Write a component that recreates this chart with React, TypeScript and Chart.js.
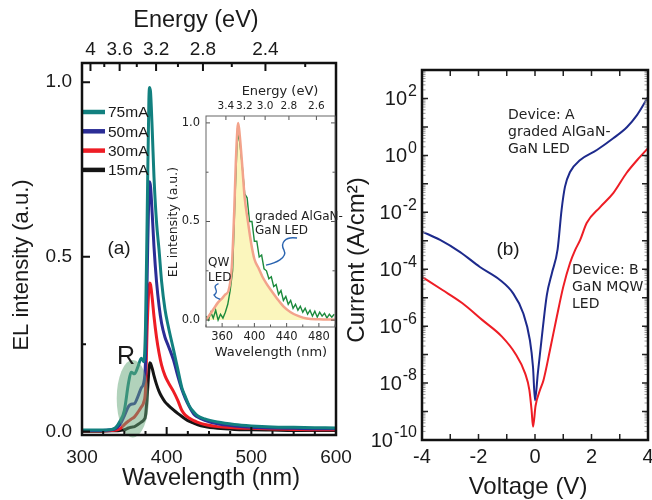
import React, { useEffect, useRef } from "react";
import { Chart, registerables } from "chart.js";
Chart.register(...registerables);

const SANS = "'Liberation Sans', Arial, Helvetica, sans-serif";
const DEJAVU = "'DejaVu Sans', Verdana, sans-serif";
const HC = 1240; // eV*nm

// ---------------- Panel (a): EL spectra ----------------
const wavelengths = [300, 320, 335, 340, 345, 350, 355, 358, 362, 366, 370, 373, 375, 377, 379, 380, 381, 383, 385, 388, 391, 394, 398, 402, 408, 413, 418, 422, 427, 432, 436, 445, 460, 480, 500, 525, 550, 575, 600];
const el75 = [0.004, 0.004, 0.006, 0.012, 0.03, 0.06, 0.14, 0.17, 0.165, 0.185, 0.21, 0.2, 0.3, 0.62, 0.95, 0.985, 0.97, 0.86, 0.73, 0.6, 0.52, 0.43, 0.35, 0.3, 0.235, 0.18, 0.125, 0.1, 0.072, 0.056, 0.046, 0.036, 0.027, 0.02, 0.016, 0.013, 0.012, 0.011, 0.01];
const el50 = [0.003, 0.003, 0.005, 0.009, 0.02, 0.045, 0.072, 0.078, 0.08, 0.1, 0.125, 0.14, 0.2, 0.45, 0.69, 0.715, 0.7, 0.62, 0.53, 0.43, 0.36, 0.31, 0.27, 0.245, 0.205, 0.16, 0.12, 0.095, 0.07, 0.05, 0.042, 0.032, 0.022, 0.016, 0.012, 0.01, 0.009, 0.008, 0.008];
const el30 = [0.002, 0.002, 0.003, 0.004, 0.008, 0.02, 0.03, 0.035, 0.042, 0.055, 0.07, 0.085, 0.12, 0.3, 0.41, 0.425, 0.42, 0.38, 0.33, 0.27, 0.225, 0.19, 0.16, 0.14, 0.115, 0.09, 0.06, 0.047, 0.038, 0.031, 0.027, 0.02, 0.014, 0.011, 0.009, 0.007, 0.006, 0.005, 0.005];
const el15 = [0.001, 0.001, 0.002, 0.002, 0.003, 0.005, 0.01, 0.012, 0.014, 0.02, 0.027, 0.033, 0.045, 0.1, 0.175, 0.197, 0.195, 0.18, 0.16, 0.135, 0.115, 0.1, 0.085, 0.075, 0.062, 0.052, 0.043, 0.036, 0.029, 0.024, 0.02, 0.014, 0.009, 0.006, 0.005, 0.004, 0.003, 0.003, 0.003];
const seriesLabels = ["75mA", "50mA", "30mA", "15mA"];
const seriesColors = ["#12807f", "#2b2d96", "#ee1d25", "#151515"];
const wlTicks = [300, 400, 500, 600];
const wlMinorTicks = [325, 350, 375, 425, 450, 475, 525, 550, 575];
const energyTicks = [4, 3.6, 3.2, 2.8, 2.4];
const energyTickLabels = ["4", "3.6", "3.2", "2.8", "2.4"];
const energyMinorTicks = [3.8, 3.4, 3.0, 2.6, 2.2];
const elTicks = [0, 0.5, 1.0];
const elMinorTicks = [0.25, 0.75];
// highlighted region "R" (wavelength nm, intensity)
const regionR = { cx: 360, cy: 0.094, rx: 19, ry: 0.111 };

// ---------------- Inset ----------------
const insetWlQW = [340, 345, 350, 355, 360, 364, 368, 372, 375, 377, 379, 380, 382, 385, 388, 392, 396, 400, 405, 410, 415, 420, 428, 436, 445, 455, 465, 480, 500];
const insetQW = [0.0, 0.03, 0.06, 0.09, 0.11, 0.13, 0.15, 0.27, 0.55, 0.8, 0.97, 1.0, 0.93, 0.78, 0.62, 0.5, 0.39, 0.31, 0.265, 0.22, 0.185, 0.155, 0.11, 0.07, 0.04, 0.02, 0.008, 0.004, 0.002];
const insetWlGraded = [340, 343, 346, 349, 352, 355, 358, 361, 364, 367, 370, 373, 376, 379, 382, 385, 388, 391, 394, 397, 400, 403, 406, 409, 412, 415, 418, 421, 424, 427, 430, 433, 436, 439, 442, 445, 448, 451, 454, 457, 460, 463, 466, 469, 472, 475, 478, 481, 484, 487, 490, 493, 496, 499];
const insetGraded = [0.02, 0.0, 0.04, 0.01, 0.05, 0.0, 0.03, 0.01, 0.04, 0.08, 0.15, 0.25, 0.62, 0.95, 0.9, 0.78, 0.64, 0.62, 0.5, 0.5, 0.4, 0.4, 0.32, 0.33, 0.26, 0.25, 0.21, 0.22, 0.17, 0.18, 0.13, 0.15, 0.1, 0.12, 0.08, 0.1, 0.06, 0.08, 0.05, 0.07, 0.04, 0.06, 0.03, 0.05, 0.02, 0.045, 0.015, 0.04, 0.02, 0.035, 0.01, 0.03, 0.015, 0.03];
const insetWlTicks = [360, 400, 440, 480];
const insetWlMinor = [340, 380, 420, 460, 500];
const insetEnergyTicks = [3.4, 3.2, 3.0, 2.8, 2.6];
const insetEnergyLabels = ["3.4", "3.2", "3.0", "2.8", "2.6"];
const insetElTicks = [0, 0.5, 1.0];
const insetElMinor = [0.25, 0.75];
// pointer squiggles (data coords of the inset)
const squiggleGraded = [[452.9, 0.416], [438, 0.426], [431.8, 0.391], [436.7, 0.355], [441.7, 0.315], [425.6, 0.289], [414.4, 0.279]];
const squiggleQW = [[355.5, 0.185], [345, 0.168], [358.5, 0.15], [349.9, 0.127], [352, 0.11], [356.5, 0.108], [357.5, 0.105]];

// ---------------- Panel (b): J-V ----------------
const voltA = [-4, -3.36, -2.65, -1.95, -1.24, -0.78, -0.42, -0.18, -0.07, 0, 0.1, 0.28, 0.42, 0.6, 0.8, 0.94, 1.06, 1.24, 1.6, 2.19, 2.77, 3.26, 3.61, 4.0];
const currentA = [2.1e-3, 1.07e-3, 4.0e-4, 1.2e-4, 4.2e-5, 1.45e-5, 2.9e-6, 3.2e-7, 3.6e-8, 2.5e-9, 2.2e-8, 9.3e-7, 1.26e-5, 7.4e-5, 5.0e-4, 1.2e-2, 7.8e-2, 0.26, 0.69, 1.55, 4.0, 10, 26, 112];
const voltB = [-4, -3.29, -2.58, -1.87, -1.17, -0.7, -0.35, -0.2, -0.12, -0.07, 0.02, 0.18, 0.3, 0.53, 0.77, 1.0, 1.24, 1.42, 1.6, 1.83, 2.3, 2.77, 3.24, 3.71, 4.0];
const currentB = [5.4e-5, 1.9e-5, 6.5e-6, 1.66e-6, 4.3e-7, 1.1e-7, 2.2e-8, 5.8e-9, 1.1e-9, 2.9e-10, 1.6e-9, 5.8e-9, 1.26e-8, 1.45e-7, 2.1e-6, 2.4e-5, 1.66e-4, 4.7e-4, 1.07e-3, 4.2e-3, 1.5e-2, 4.7e-2, 0.24, 0.87, 1.8];
const voltTicks = [-4, -2, 0, 2, 4];
const voltMinor = [-3, -1, 1, 3];
const currentExponents = [-10, -8, -6, -4, -2, 0, 2];
const currentDecades = [-10, -9, -8, -7, -6, -5, -4, -3, -2, -1, 0, 1, 2, 3];
const minorMultipliers = [2, 3, 4, 5, 6, 7, 8, 9];

// ---------------- helpers ----------------
type TickSet = { scale: string; values: number[]; len: number; width: number; color: string; edges: string[] };

function frameTicks(sets: TickSet[], frameWidth: number, frameColor: string, fillBg?: string) {
  return {
    id: "frameTicks",
    beforeDraw(chart: any) {
      if (!fillBg) return;
      const { ctx, chartArea: a } = chart;
      ctx.save();
      ctx.fillStyle = fillBg;
      ctx.fillRect(a.left, a.top, a.width, a.height);
      ctx.restore();
    },
    afterDraw(chart: any) {
      const { ctx, chartArea: a } = chart;
      ctx.save();
      for (const t of sets) {
        const s = chart.scales[t.scale];
        ctx.beginPath();
        ctx.strokeStyle = t.color;
        ctx.lineWidth = t.width;
        for (const v of t.values) {
          const p = s.getPixelForValue(v);
          for (const e of t.edges) {
            if (e === "bottom") { ctx.moveTo(p, a.bottom); ctx.lineTo(p, a.bottom - t.len); }
            else if (e === "top") { ctx.moveTo(p, a.top); ctx.lineTo(p, a.top + t.len); }
            else if (e === "left") { ctx.moveTo(a.left, p); ctx.lineTo(a.left + t.len, p); }
            else { ctx.moveTo(a.right, p); ctx.lineTo(a.right - t.len, p); }
          }
        }
        ctx.stroke();
      }
      ctx.lineWidth = frameWidth;
      ctx.strokeStyle = frameColor;
      ctx.strokeRect(a.left, a.top, a.width, a.height);
      ctx.restore();
    },
  };
}

type TextItem = { text: string; x: number; y: number; font: string; color?: string; align?: CanvasTextAlign; rot?: number };
function textPlugin(items: TextItem[]) {
  return {
    id: "texts",
    afterDraw(chart: any) {
      const ctx = chart.ctx;
      for (const t of items) {
        ctx.save();
        ctx.translate(t.x, t.y);
        if (t.rot) ctx.rotate(t.rot);
        ctx.font = t.font;
        ctx.fillStyle = t.color || "#1a1a1a";
        ctx.textAlign = t.align || "center";
        ctx.textBaseline = "middle";
        ctx.fillText(t.text, 0, 0);
        ctx.restore();
      }
    },
  };
}

const fixH = (h: number) => (s: any) => { s.height = h; s.paddingLeft = 0; s.paddingRight = 0; };
const fixW = (w: number) => (s: any) => { s.width = w; s.paddingTop = 0; s.paddingBottom = 0; };
const setTicks = (vals: number[]) => (s: any) => { s.ticks = vals.map((v) => ({ value: v })); };
const noGrid = { display: false, drawTicks: false };
const noBorder = { display: false };
const pts = (xs: number[], ys: number[]) => xs.map((x, i) => ({ x, y: ys[i] }));

// ---------------- configs ----------------
function configMain(): any {
  const series = [el75, el50, el30, el15];
  const decor = {
    id: "decor",
    afterDatasetsDraw(chart: any) {
      const { ctx, scales, chartArea: a } = chart;
      const x = scales.x, y = scales.y;
      const cx = x.getPixelForValue(regionR.cx), cy = y.getPixelForValue(regionR.cy);
      const rx = Math.abs(x.getPixelForValue(regionR.cx + regionR.rx) - cx);
      const ry = Math.abs(y.getPixelForValue(regionR.cy + regionR.ry) - cy);
      ctx.save();
      ctx.fillStyle = "rgba(100,165,120,0.5)";
      ctx.beginPath();
      ctx.ellipse(cx, cy, rx, ry, 0, 0, Math.PI * 2);
      ctx.fill();
      // legend
      chart.data.datasets.forEach((ds: any, i: number) => {
        const yy = a.top + 49 + i * 19.3;
        ctx.strokeStyle = ds.borderColor;
        ctx.lineWidth = 4.5;
        ctx.beginPath();
        ctx.moveTo(a.left, yy);
        ctx.lineTo(a.left + 23, yy);
        ctx.stroke();
        ctx.fillStyle = "#1a1a1a";
        ctx.font = `15.5px ${SANS}`;
        ctx.textAlign = "left";
        ctx.textBaseline = "middle";
        ctx.fillText(ds.label, a.left + 26, yy + 1);
      });
      ctx.restore();
    },
  };
  return {
    type: "line",
    data: {
      datasets: series.map((s, i) => ({
        label: seriesLabels[i],
        data: pts(wavelengths, s),
        borderColor: seriesColors[i],
        borderWidth: 3,
        pointRadius: 0,
        fill: false,
        cubicInterpolationMode: "monotone",
      })),
    },
    options: {
      animation: false,
      responsive: false,
      maintainAspectRatio: false,
      events: [],
      layout: { padding: { left: 0, top: 0, right: 316, bottom: 0 } },
      plugins: { legend: { display: false }, tooltip: { enabled: false } },
      scales: {
        x: {
          type: "linear", position: "bottom", min: 300, max: 600,
          afterBuildTicks: setTicks(wlTicks), afterFit: fixH(65),
          grid: noGrid, border: noBorder,
          ticks: { autoSkip: false, maxRotation: 0, padding: 11, color: "#1a1a1a", font: { family: SANS, size: 19 }, callback: (v: number) => String(v) },
        },
        x2: {
          type: "linear", axis: "x", position: "top", min: 300, max: 600,
          afterBuildTicks: setTicks(energyTicks.map((e) => HC / e)), afterFit: fixH(63),
          grid: noGrid, border: noBorder,
          ticks: { autoSkip: false, maxRotation: 0, padding: 2, color: "#1a1a1a", font: { family: SANS, size: 19 }, callback: (_v: number, i: number) => energyTickLabels[i] },
        },
        y: {
          type: "linear", position: "left", min: -0.01, max: 1.055,
          afterBuildTicks: setTicks(elTicks), afterFit: fixW(82),
          grid: noGrid, border: noBorder,
          ticks: { autoSkip: false, padding: 10, color: "#1a1a1a", font: { family: SANS, size: 19 }, callback: (v: number) => v.toFixed(1) },
        },
      },
    },
    plugins: [
      decor,
      frameTicks([
        { scale: "x", values: wlTicks, len: 8, width: 2, color: "#111", edges: ["bottom"] },
        { scale: "x", values: wlMinorTicks, len: 4, width: 2, color: "#111", edges: ["bottom"] },
        { scale: "x2", values: energyTicks.map((e) => HC / e), len: 8, width: 2, color: "#111", edges: ["top"] },
        { scale: "x2", values: energyMinorTicks.map((e) => HC / e), len: 4, width: 2, color: "#111", edges: ["top"] },
        { scale: "y", values: elTicks, len: 8, width: 2, color: "#111", edges: ["left"] },
        { scale: "y", values: elMinorTicks, len: 4, width: 2, color: "#111", edges: ["left"] },
      ], 2.5, "#111"),
      textPlugin([
        { text: "Energy (eV)", x: 196, y: 21, font: `23.5px ${SANS}` },
        { text: "Wavelength (nm)", x: 211, y: 479, font: `23.5px ${SANS}` },
        { text: "EL intensity (a.u.)", x: 22, y: 265, font: `22px ${SANS}`, rot: -Math.PI / 2 },
        { text: "(a)", x: 119, y: 249, font: `19px ${SANS}` },
        { text: "R", x: 126, y: 357, font: `25px ${SANS}` },
      ]),
    ],
  };
}

function configInset(): any {
  const squiggles = {
    id: "squiggles",
    afterDraw(chart: any) {
      const { ctx, scales } = chart;
      const x = scales.x, y = scales.y;
      ctx.save();
      ctx.strokeStyle = "#2a64b0";
      ctx.lineWidth = 1.4;
      for (const sq of [squiggleGraded, squiggleQW]) {
        const p = sq.map(([a, b]) => [x.getPixelForValue(a), y.getPixelForValue(b)]);
        ctx.beginPath();
        ctx.moveTo(p[0][0], p[0][1]);
        ctx.bezierCurveTo(p[1][0], p[1][1], p[2][0], p[2][1], p[3][0], p[3][1]);
        ctx.bezierCurveTo(p[4][0], p[4][1], p[5][0], p[5][1], p[6][0], p[6][1]);
        ctx.stroke();
      }
      ctx.restore();
    },
  };
  return {
    type: "line",
    data: {
      datasets: [
        { label: "QW LED", data: pts(insetWlQW, insetQW), borderColor: "#f3a38b", borderWidth: 2.5, pointRadius: 0, fill: false, cubicInterpolationMode: "monotone" },
        { label: "graded AlGaN-GaN LED", data: pts(insetWlGraded, insetGraded), borderColor: "#1c8a3c", borderWidth: 1.4, pointRadius: 0, fill: false, tension: 0 },
        { label: "QW fill", data: pts(insetWlQW, insetQW), borderWidth: 0, borderColor: "rgba(0,0,0,0)", backgroundColor: "#fbf6bd", pointRadius: 0, fill: "origin", cubicInterpolationMode: "monotone" },
      ],
    },
    options: {
      animation: false,
      responsive: false,
      maintainAspectRatio: false,
      events: [],
      layout: { padding: { left: 166, top: 86, right: 317, bottom: 143 } },
      plugins: { legend: { display: false }, tooltip: { enabled: false }, filler: { propagate: false } },
      scales: {
        x: {
          type: "linear", position: "bottom", min: 340, max: 500,
          afterBuildTicks: setTicks(insetWlTicks), afterFit: fixH(30),
          grid: noGrid, border: noBorder,
          ticks: { autoSkip: false, maxRotation: 0, padding: 3, color: "#222", font: { family: DEJAVU, size: 11.5 }, callback: (v: number) => String(v) },
        },
        x2: {
          type: "linear", axis: "x", position: "top", min: 340, max: 500,
          afterBuildTicks: setTicks(insetEnergyTicks.map((e) => HC / e)), afterFit: fixH(30),
          grid: noGrid, border: noBorder,
          ticks: { autoSkip: false, maxRotation: 0, padding: 3, color: "#222", font: { family: DEJAVU, size: 10.5 }, callback: (_v: number, i: number) => insetEnergyLabels[i] },
        },
        y: {
          type: "linear", position: "left", min: -0.035, max: 1.035,
          afterBuildTicks: setTicks(insetElTicks), afterFit: fixW(40),
          grid: noGrid, border: noBorder,
          ticks: { autoSkip: false, padding: 6, color: "#222", font: { family: DEJAVU, size: 11.5 }, callback: (v: number) => v.toFixed(1) },
        },
      },
    },
    plugins: [
      frameTicks([
        { scale: "x", values: insetWlTicks, len: 4, width: 1, color: "#555", edges: ["bottom"] },
        { scale: "x", values: insetWlMinor, len: 2.5, width: 1, color: "#555", edges: ["bottom"] },
        { scale: "x2", values: insetEnergyTicks.map((e) => HC / e), len: 4, width: 1, color: "#555", edges: ["top"] },
        { scale: "y", values: insetElTicks, len: 4, width: 1, color: "#555", edges: ["left", "right"] },
        { scale: "y", values: insetElMinor, len: 2.5, width: 1, color: "#555", edges: ["left", "right"] },
      ], 1, "#666", "#ffffff"),
      squiggles,
      textPlugin([
        { text: "Energy (eV)", x: 280, y: 92, font: `13px ${DEJAVU}`, color: "#222" },
        { text: "Wavelength (nm)", x: 271, y: 353, font: `13px ${DEJAVU}`, color: "#222" },
        { text: "EL intensity (a.u.)", x: 174, y: 222, font: `12.5px ${DEJAVU}`, color: "#222", rot: -Math.PI / 2 },
        { text: "graded AlGaN-", x: 255, y: 217, font: `12px ${DEJAVU}`, color: "#222", align: "left" },
        { text: "GaN LED", x: 255, y: 231, font: `12px ${DEJAVU}`, color: "#222", align: "left" },
        { text: "QW", x: 208, y: 263, font: `12px ${DEJAVU}`, color: "#222", align: "left" },
        { text: "LED", x: 208, y: 278, font: `12px ${DEJAVU}`, color: "#222", align: "left" },
      ]),
    ],
  };
}

function configIV(): any {
  const yMin = 1e-10, yMax = 1e3;
  const minorCurrent: number[] = [];
  for (const d of currentDecades) for (const m of minorMultipliers) {
    const v = m * Math.pow(10, d);
    if (v > yMin && v < yMax) minorCurrent.push(v);
  }
  const expLabels = {
    id: "expLabels",
    afterDraw(chart: any) {
      const { ctx, chartArea: a } = chart;
      const s = chart.scales.y;
      ctx.save();
      ctx.fillStyle = "#1a1a1a";
      ctx.textAlign = "right";
      ctx.textBaseline = "middle";
      for (const e of currentExponents) {
        const py = s.getPixelForValue(Math.pow(10, e));
        const ex = String(e);
        const xr = a.left - 5;
        ctx.font = `16px ${SANS}`;
        ctx.fillText(ex, xr, py - 7);
        const w = ctx.measureText(ex).width;
        ctx.font = `20px ${SANS}`;
        ctx.fillText("10", xr - w - 1, py + 1);
      }
      ctx.restore();
    },
  };
  return {
    type: "line",
    data: {
      datasets: [
        { label: "Device A", data: pts(voltA, currentA), borderColor: "#1d2a8c", borderWidth: 2, pointRadius: 0, fill: false, cubicInterpolationMode: "monotone" },
        { label: "Device B", data: pts(voltB, currentB), borderColor: "#ee1d25", borderWidth: 2, pointRadius: 0, fill: false, cubicInterpolationMode: "monotone" },
      ],
    },
    options: {
      animation: false,
      responsive: false,
      maintainAspectRatio: false,
      events: [],
      layout: { padding: { left: 0, top: 70, right: 4, bottom: 0 } },
      plugins: { legend: { display: false }, tooltip: { enabled: false } },
      scales: {
        x: {
          type: "linear", position: "bottom", min: -4, max: 4,
          afterBuildTicks: setTicks(voltTicks), afterFit: fixH(60),
          grid: noGrid, border: noBorder,
          ticks: { autoSkip: false, maxRotation: 0, padding: 5, color: "#1a1a1a", font: { family: SANS, size: 20 }, callback: (v: number) => String(v) },
        },
        y: {
          type: "logarithmic", position: "left", min: yMin, max: yMax,
          afterBuildTicks: setTicks(currentExponents.map((e) => Math.pow(10, e))), afterFit: fixW(422),
          grid: noGrid, border: noBorder,
          ticks: { display: false },
        },
      },
    },
    plugins: [
      frameTicks([
        { scale: "x", values: voltTicks.concat(voltMinor), len: 6, width: 1.5, color: "#222", edges: ["bottom", "top"] },
        { scale: "y", values: minorCurrent, len: 3.5, width: 1, color: "#999", edges: ["left", "right"] },
        { scale: "y", values: currentDecades.map((d) => Math.pow(10, d)), len: 6, width: 1.5, color: "#222", edges: ["left", "right"] },
      ], 2.5, "#111"),
      expLabels,
      textPlugin([
        { text: "Voltage (V)", x: 528, y: 487, font: `24px ${SANS}` },
        { text: "Current (A/cm²)", x: 357, y: 260, font: `24px ${SANS}`, rot: -Math.PI / 2 },
        { text: "(b)", x: 508, y: 250, font: `19px ${SANS}` },
        { text: "Device: A", x: 508, y: 115, font: `14px ${DEJAVU}`, color: "#222", align: "left" },
        { text: "graded AlGaN-", x: 508, y: 132, font: `14px ${DEJAVU}`, color: "#222", align: "left" },
        { text: "GaN LED", x: 508, y: 149, font: `14px ${DEJAVU}`, color: "#222", align: "left" },
        { text: "Device: B", x: 572, y: 270, font: `14px ${DEJAVU}`, color: "#222", align: "left" },
        { text: "GaN MQW", x: 572, y: 287, font: `14px ${DEJAVU}`, color: "#222", align: "left" },
        { text: "LED", x: 572, y: 304, font: `14px ${DEJAVU}`, color: "#222", align: "left" },
      ]),
    ],
  };
}

export default function App() {
  const mainRef = useRef<HTMLCanvasElement>(null);
  const insetRef = useRef<HTMLCanvasElement>(null);
  const ivRef = useRef<HTMLCanvasElement>(null);
  useEffect(() => {
    const charts = [
      new Chart(mainRef.current as HTMLCanvasElement, configMain()),
      new Chart(insetRef.current as HTMLCanvasElement, configInset()),
      new Chart(ivRef.current as HTMLCanvasElement, configIV()),
    ];
    return () => charts.forEach((c) => c.destroy());
  }, []);
  const cs: React.CSSProperties = { position: "absolute", left: 0, top: 0, width: 652, height: 500 };
  return (
    <div style={{ position: "absolute", left: 0, top: 0, width: 652, height: 500, background: "#fff", overflow: "hidden" }}>
      <canvas ref={mainRef} width={652} height={500} style={cs} />
      <canvas ref={insetRef} width={652} height={500} style={cs} />
      <canvas ref={ivRef} width={652} height={500} style={cs} />
    </div>
  );
}
